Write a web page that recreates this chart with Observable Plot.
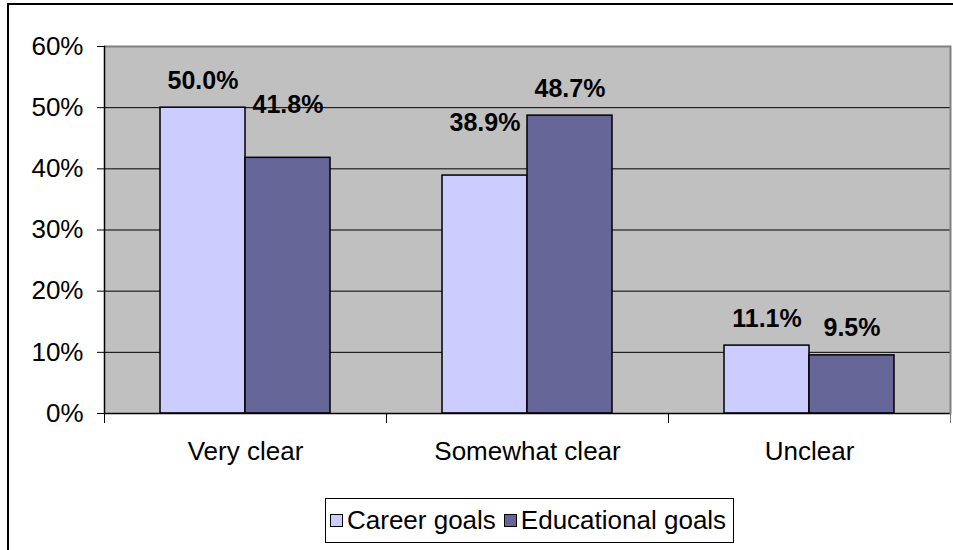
<!DOCTYPE html>
<html><head><meta charset="utf-8">
<script src="https://cdn.jsdelivr.net/npm/d3@7"></script>
<script src="https://cdn.jsdelivr.net/npm/@observablehq/plot@0.6"></script>
<style>
html,body{margin:0;padding:0;background:#fff;overflow:hidden;width:953px;height:550px;}
body{position:relative;font-family:"Liberation Sans",Arial,sans-serif;}
#border{position:absolute;left:7px;top:3px;width:2000px;height:2000px;border-left:2px solid #000;border-top:2px solid #000;pointer-events:none;}
#chart{position:absolute;left:0;top:0;}
#legend{display:inline-flex;align-items:center;margin-left:325px;margin-top:3px;border:1px solid #000;padding:7px 7px 7px 4px;font-size:26px;line-height:29px;color:#000;background:#fff;}
#legend .sw{display:inline-block;width:11px;height:11px;border:1px solid #000;margin-right:4px;}
#legend .item{display:inline-flex;align-items:center;margin-right:8px;}
#legend .item:last-child{margin-right:0;}
</style></head><body>
<div id="border"></div>
<div id="chart"></div>
<script>
const categories = ["Very clear", "Somewhat clear", "Unclear"];
const series = ["Career goals", "Educational goals"];
const career = [50.0, 38.9, 11.1];
const educational = [41.8, 48.7, 9.5];
const yTicks = [0, 10, 20, 30, 40, 50, 60];
const colors = ["#ccccff", "#666699"];
const liftedLabels = ["Very clear|Educational goals", "Somewhat clear|Career goals"];

const rows = categories.flatMap((c, i) => [
  {category: c, series: series[0], value: career[i]},
  {category: c, series: series[1], value: educational[i]}
]);
const isLifted = d => liftedLabels.includes(d.category + "|" + d.series);
const fmt = d => d.value.toFixed(1) + "%";

const plot = Plot.plot({
  width: 953,
  height: 495,
  marginLeft: 104,
  marginRight: 3,
  marginTop: 46,
  marginBottom: 82,
  style: {fontFamily: "'Liberation Sans', Arial, sans-serif", fontSize: "26px", color: "#000", background: "transparent", overflow: "visible"},
  fx: {domain: categories, padding: 0, label: null, axis: "bottom", tickSize: 0, tickPadding: 28},
  x: {domain: series, axis: null, paddingInner: 0, paddingOuter: 0.64},
  y: {domain: [0, 60], ticks: yTicks, tickFormat: d => d + "%", label: null, tickSize: 7, tickPadding: 14},
  color: {domain: series, range: colors},
  marks: [
    Plot.frame({fill: "#c0c0c0", stroke: "#c0c0c0", strokeWidth: 1}),
    Plot.ruleY(yTicks.filter(t => t > 0 && t < 60), {stroke: "#000", strokeWidth: 1}),
    Plot.ruleY([60], {stroke: "#808080", strokeWidth: 2}),
    Plot.barY(rows, {fx: "category", x: "series", y: "value", fill: "series", stroke: "#000", strokeWidth: 1.5}),
    Plot.ruleY([0], {stroke: "#000", strokeWidth: 1.5}),
    Plot.frame({anchor: "left", facetAnchor: "left", stroke: "#000", strokeWidth: 1.5}),
    Plot.frame({anchor: "right", facetAnchor: "right", stroke: "#808080", strokeWidth: 2}),
    Plot.frame({anchor: "left", stroke: "#000", insetTop: 367, insetBottom: -9}),
    Plot.frame({anchor: "right", facetAnchor: "right", stroke: "#808080", insetTop: 367, insetBottom: -9}),
    Plot.text(rows.filter(d => !isLifted(d)), {fx: "category", x: "series", y: "value", text: fmt, dy: -27, fontWeight: "bold", fontSize: 25, fill: "#000"}),
    Plot.text(rows.filter(isLifted), {fx: "category", x: "series", y: "value", text: fmt, dy: -53, fontWeight: "bold", fontSize: 25, fill: "#000"})
  ]
});

const chart = document.getElementById("chart");
chart.appendChild(plot);
const legend = document.createElement("div");
legend.id = "legend";
series.forEach((s, i) => {
  const item = document.createElement("span");
  item.className = "item";
  const sw = document.createElement("span");
  sw.className = "sw";
  sw.style.background = colors[i];
  item.appendChild(sw);
  item.appendChild(document.createTextNode(s));
  legend.appendChild(item);
});
const wrap = document.createElement("div");
wrap.appendChild(legend);
chart.appendChild(wrap);
</script>
</body></html>
